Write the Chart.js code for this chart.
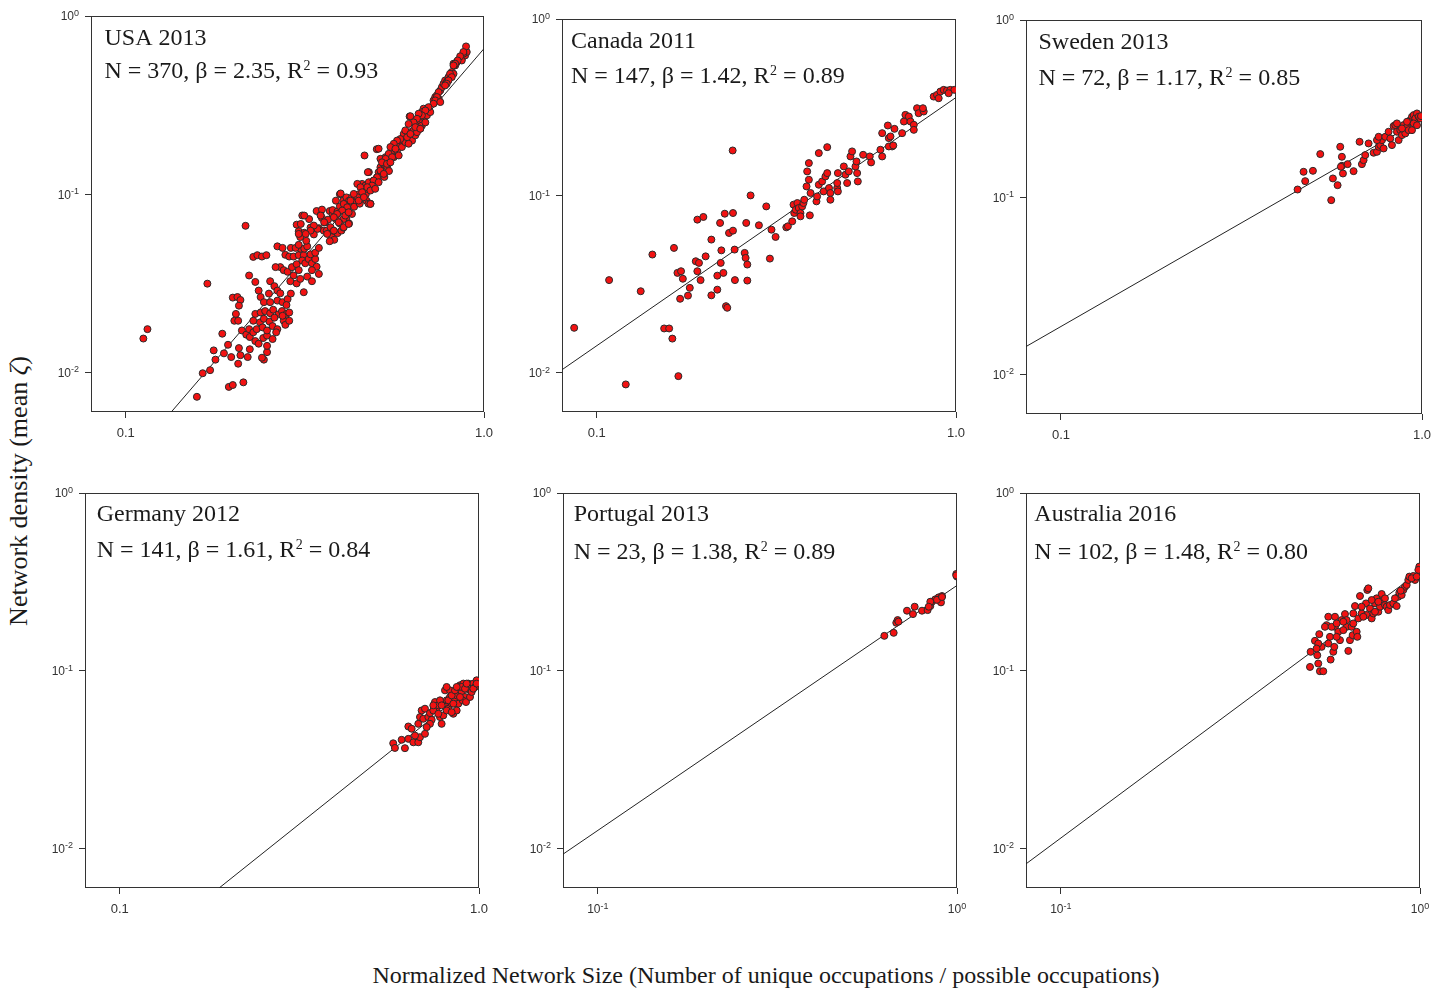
<!DOCTYPE html>
<html>
<head>
<meta charset="utf-8">
<script src="https://cdn.jsdelivr.net/npm/chart.js@4.4.1/dist/chart.umd.min.js"></script>
<style>
  html, body { margin:0; padding:0; background:#fff; }
  body { position:relative; width:1445px; height:989px; overflow:hidden; }
  canvas { position:absolute; }
  .axis-title { position:absolute; font-family:"Liberation Serif","Times New Roman",serif; line-height:1; color:#1a1a1a; white-space:nowrap; }
</style>
</head>
<body>
<div class="axis-title" id="xtitle" style="font-size:24px; left:766px; top:963px; transform:translateX(-50%);">Normalized Network Size (Number of unique occupations / possible occupations)</div>
<div class="axis-title" id="ytitle" style="font-size:26px; left:19px; top:491px; transform:translate(-50%,-50%) rotate(-90deg);">Network density (mean <i>ζ</i>)</div>
<script>
// ---------------- DATA ----------------
const panelTitles = ['USA 2013', 'Canada 2011', 'Sweden 2013', 'Germany 2012', 'Portugal 2013', 'Australia 2016'];
const panelN = ['370', '147', '72', '141', '23', '102'];
const panelBeta = ['2.35', '1.42', '1.17', '1.61', '1.38', '1.48'];
const panelR2 = ['0.93', '0.89', '0.85', '0.84', '0.89', '0.80'];

const xTickValues = [0.1, 1];
const yTickValues = [0.01, 0.1, 1];
const xDecimalLabels = ['0.1', '1.0'];
const xExponentLabels = ['-1', '0'];
const yExponentLabels = ['-2', '-1', '0'];

const usaFit = [[0.134, 0.006], [1.0, 0.656]];
const canadaFit = [[0.08, 0.0104], [1.0, 0.36]];
const swedenFit = [[0.08, 0.0144], [1.0, 0.276]];
const germanyFit = [[0.189, 0.006], [1.0, 0.088]];
const portugalFit = [[0.08, 0.0093], [1.0, 0.302]];
const australiaFit = [[0.08, 0.0082], [1.0, 0.362]];

const usaPts = [
[0.112,0.0155],[0.115,0.0175],[0.169,0.0315],[0.158,0.0073],[0.164,0.0099],[0.172,0.0103],[0.194,0.0083],[0.199,0.0085],[0.213,0.0088],[0.216,0.0665],
[0.176,0.0133],[0.186,0.0165],[0.178,0.0118],[0.188,0.0128],[0.193,0.0143],[0.197,0.0122],[0.206,0.0112],[0.209,0.0125],[0.219,0.0122],[0.222,0.0135],[0.207,0.0137],
[0.201,0.0195],[0.206,0.0195],[0.199,0.0263],[0.205,0.0265],[0.209,0.0255],[0.207,0.0237],[0.203,0.0213],
[0.211,0.0172],[0.217,0.0163],[0.221,0.0175],[0.222,0.0158],[0.227,0.0168],[0.230,0.0150],[0.235,0.0145],[0.242,0.0156],[0.248,0.0161],[0.243,0.0118],[0.248,0.0130],[0.240,0.0121],
[0.221,0.0350],[0.230,0.0322],[0.227,0.0445],[0.233,0.0455],[0.240,0.0447],[0.247,0.0455],[0.235,0.0288],[0.238,0.0265],[0.243,0.0248],[0.251,0.0277],
[0.230,0.0213],[0.238,0.0217],[0.245,0.0221],[0.253,0.0215],[0.258,0.0225],[0.267,0.0212],[0.273,0.0221],
[0.227,0.0195],[0.237,0.0191],[0.243,0.0200],[0.252,0.0193],[0.260,0.0203],[0.276,0.0195],[0.281,0.0213],
[0.232,0.0175],[0.241,0.0179],[0.248,0.0172],[0.257,0.0182],[0.265,0.0175],[0.279,0.0185],
[0.248,0.0141],[0.257,0.0154],[0.263,0.0168],
[0.253,0.0325],[0.260,0.0305],[0.265,0.0288],[0.270,0.0278],
[0.253,0.0248],[0.265,0.0253],[0.274,0.0248],[0.283,0.0258],[0.289,0.0277],[0.281,0.0239],
[0.286,0.0217],[0.274,0.0208],[0.286,0.0195],
[0.265,0.0510],[0.274,0.0500],[0.279,0.0457],
[0.270,0.0390],[0.262,0.0390],
[0.276,0.0375],[0.283,0.0367],[0.291,0.0390],[0.300,0.0405],[0.304,0.0375],[0.294,0.0350],[0.288,0.0325],[0.300,0.0316],[0.307,0.0335],
[0.286,0.0447],[0.294,0.0447],[0.304,0.0455],[0.314,0.0455],[0.307,0.0495],
[0.289,0.0500],[0.298,0.0500],[0.304,0.0520],[0.315,0.0495],[0.321,0.0510],
[0.304,0.0620],[0.315,0.0608],[0.319,0.0548],[0.307,0.0575],[0.300,0.0675],[0.311,0.0760],[0.325,0.0725],[0.328,0.0650],
[0.311,0.0425],[0.317,0.0410],[0.324,0.0433],[0.331,0.0410],[0.338,0.0433],[0.341,0.0392],[0.331,0.0375],[0.321,0.0345],[0.314,0.0282],
[0.328,0.0460],[0.338,0.0470],[0.346,0.0500],
[0.341,0.0805],[0.350,0.0765],[0.353,0.0820],[0.338,0.0645],[0.346,0.0645],[0.335,0.0595],
[0.346,0.0357],[0.331,0.0325],
[0.353,0.0735],[0.360,0.0695],[0.367,0.0720],[0.371,0.0625],[0.357,0.0625],[0.364,0.0625],
[0.371,0.0805],[0.378,0.0770],[0.386,0.0725],[0.378,0.0815],[0.390,0.0800],
[0.375,0.0580],[0.382,0.0555],[0.378,0.0625],[0.371,0.0545],[0.390,0.0605],[0.400,0.0625],[0.405,0.0650],
[0.386,0.0920],[0.396,0.0855],[0.396,0.1000],[0.405,0.0920],[0.413,0.0960],[0.413,0.0865],[0.420,0.0920],[0.416,0.0815],
[0.424,0.0885],[0.428,0.0960],[0.438,0.0920],[0.447,0.1000],[0.434,0.0850],[0.450,0.0885],[0.456,0.0960],[0.460,0.1020],[0.468,0.1000],[0.470,0.0920],[0.476,0.0885],
[0.428,0.0775],[0.413,0.0725],[0.420,0.0685],[0.405,0.0725],[0.396,0.0685],
[0.457,0.1143],[0.467,0.1119],[0.477,0.1168],[0.487,0.1095],[0.472,0.1072],[0.492,0.1193],[0.503,0.1245],[0.508,0.1330],[0.477,0.1330],
[0.482,0.0885],[0.502,0.179],[0.464,0.165],
[0.514,0.1418],[0.525,0.148],[0.519,0.1546],[0.536,0.1546],[0.542,0.165],[0.531,0.1614],[0.514,0.158],
[0.537,0.142],[0.543,0.135],[0.517,0.131],[0.527,0.125],
[0.554,0.172],[0.566,0.184],[0.572,0.176],[0.578,0.192],[0.584,0.200],[0.590,0.184],[0.597,0.209],[0.603,0.196],
[0.560,0.1614],[0.578,0.165],
[0.610,0.209],[0.616,0.218],[0.623,0.223],[0.636,0.228],[0.630,0.200],[0.643,0.214],[0.650,0.238],[0.616,0.192],
[0.657,0.248],[0.664,0.259],[0.671,0.243],[0.678,0.271],[0.686,0.253],[0.664,0.233],[0.650,0.223],
[0.620,0.273],
[0.693,0.277],[0.700,0.295],[0.708,0.289],[0.678,0.302],[0.671,0.289],
[0.723,0.336],[0.731,0.351],[0.739,0.359],[0.747,0.343],[0.755,0.382],
[0.763,0.399],[0.771,0.417],[0.779,0.435],[0.787,0.426],[0.796,0.444],
[0.804,0.464],[0.813,0.485],[0.822,0.474],[0.796,0.454],
[0.822,0.540],[0.840,0.551],[0.849,0.563],[0.867,0.576],[0.886,0.601],[0.895,0.628],[0.876,0.614],[0.891,0.675],
[0.867,0.563],[0.831,0.528],
[0.876,0.628],[0.858,0.594],[0.844,0.563],[0.831,0.540],[0.822,0.528],[0.804,0.474],[0.813,0.454],[0.796,0.435],[0.787,0.417],[0.779,0.408],
[0.747,0.374],[0.739,0.351],[0.731,0.336],[0.755,0.329],[0.723,0.322],[0.700,0.308],[0.686,0.295],[0.671,0.277],[0.657,0.283],[0.650,0.265],
[0.636,0.253],[0.623,0.274],[0.643,0.238],[0.664,0.233],[0.616,0.248],[0.597,0.218],[0.610,0.209],[0.584,0.204],[0.572,0.200],[0.603,0.228],
[0.623,0.218],[0.560,0.192],[0.548,0.184],[0.566,0.180],[0.508,0.180],[0.542,0.1685],[0.554,0.1614],[0.531,0.158],[0.519,0.151],[0.536,0.148],
[0.548,0.151],[0.474,0.133],[0.514,0.1358],[0.525,0.130],[0.503,0.1245],[0.492,0.1193],[0.508,0.1168],[0.487,0.1119],[0.472,0.1095],[0.482,0.1049],
[0.497,0.1072],[0.443,0.1143],[0.452,0.1095],[0.457,0.1026],[0.443,0.0962],[0.433,0.1004],[0.447,0.0921],[0.462,0.0962],[0.482,0.0882],[0.398,0.101],
[0.406,0.0882],[0.415,0.0845],[0.424,0.0921],[0.402,0.081],[0.389,0.0775],[0.410,0.0759],[0.419,0.0792],[0.381,0.0743],[0.393,0.0696],[0.406,0.0653],
[0.419,0.0681],[0.373,0.0653],[0.358,0.0696],[0.350,0.0759],[0.343,0.0639],[0.335,0.0667],[0.328,0.0625],[0.315,0.0759],[0.308,0.0681],[0.304,0.0599],
[0.318,0.0599],[0.365,0.0599],[0.381,0.0625]
];

const canadaPts = [
[0.0865,0.01795],[0.1204,0.00859],[0.1082,0.0334],[0.1325,0.0289],[0.1428,0.0466],[0.164,0.0508],[0.154,0.0178],[0.159,0.0178],[0.1623,0.0156],[0.1687,0.00957],
[0.1677,0.0367],[0.1716,0.0375],[0.1736,0.034],[0.1706,0.0262],[0.1794,0.0273],[0.1815,0.0302],
[0.1905,0.0734],[0.198,0.076],
[0.1886,0.0427],[0.1925,0.0418],[0.1905,0.0375],[0.1945,0.0334],[0.2009,0.0455],
[0.2084,0.0566],[0.2084,0.0274],[0.2165,0.0295],
[0.2165,0.0354],[0.2213,0.0418],[0.2251,0.0367],
[0.2204,0.0703],[0.2222,0.0492],
[0.2271,0.0793],[0.2394,0.080],
[0.2334,0.0617],[0.2394,0.0636],
[0.2289,0.0238],[0.2308,0.0233],
[0.2389,0.1806],
[0.2419,0.0497],[0.2424,0.0334],
[0.258,0.0476],[0.2596,0.0446],[0.2624,0.0409],[0.2624,0.0332],
[0.2606,0.0703],[0.268,0.1006],[0.2827,0.0682],[0.2963,0.0872],[0.3033,0.0442],[0.3064,0.0644],[0.3146,0.0586],
[0.3369,0.0664],[0.3404,0.0673],
[0.350,0.0718],[0.3545,0.080],[0.3529,0.0892],[0.3617,0.0911],
[0.358,0.0835],[0.365,0.0854],[0.369,0.080],[0.373,0.0872],[0.376,0.0911],[0.378,0.0951],
[0.369,0.0766],[0.3918,0.0776],
[0.3836,0.1131],[0.3894,0.1234],[0.3852,0.1375],[0.3894,0.1532],[0.3936,0.1038],
[0.4088,0.0931],[0.4105,0.0993],
[0.415,0.1156],[0.424,0.1207],[0.433,0.1288],[0.438,0.1345],[0.428,0.106],
[0.415,0.1745],[0.438,0.1886],
[0.443,0.1107],[0.447,0.1038],[0.467,0.1107],[0.469,0.106],
[0.447,0.0951],[0.467,0.1182],[0.469,0.1345],
[0.4872,0.1467],[0.4977,0.1182],[0.4923,0.1317],[0.503,0.1375],[0.5084,0.1671],[0.5137,0.1784],[0.5249,0.1467],[0.5284,0.1565],[0.5306,0.1345],[0.5329,0.1207],
[0.5514,0.1707],[0.5754,0.1671],[0.5803,0.1546],
[0.616,0.1823],[0.623,0.1671],[0.65,0.2121],[0.664,0.1903],[0.65,0.1903],[0.657,0.2168],
[0.623,0.2263],[0.646,0.25],[0.674,0.2393],[0.669,0.1928],
[0.708,0.2263],[0.716,0.2633],[0.723,0.2871],[0.739,0.281],[0.747,0.2633],[0.763,0.2522],[0.763,0.2362],[0.779,0.3131],[0.787,0.2934],[0.813,0.2999],[0.809,0.3131],
[0.8667,0.3643],[0.8855,0.3724],[0.9046,0.3889],[0.924,0.3975],[0.944,0.394],[0.9643,0.3975],[0.9894,0.3975],[0.895,0.3566],[0.954,0.3805]
];

const swedenPts = [
[0.4522,0.1107],[0.4698,0.1393],[0.4748,0.1234],[0.4987,0.1411],[0.5226,0.1753],[0.5605,0.0964],[0.5665,0.1278],[0.5837,0.1171],
[0.5936,0.1928],[0.5999,0.1693],[0.5999,0.1506],[0.604,0.1363],[0.6221,0.1539],[0.5961,0.1487],
[0.6463,0.1405],[0.6716,0.2057],[0.7113,0.2013],
[0.6816,0.1539],[0.6889,0.1621],[0.6963,0.173],
[0.7345,0.1784],[0.7503,0.1806],[0.7584,0.1928],[0.7665,0.197],[0.7747,0.2102],[0.7503,0.2102],[0.7584,0.2195],
[0.7828,0.1886],[0.7912,0.2195],[0.8082,0.2343],[0.8168,0.2148],[0.8256,0.197],[0.8344,0.2522],[0.8435,0.2555],[0.8524,0.2343],[0.8615,0.2102],
[0.8707,0.2393],[0.88,0.2243],[0.8896,0.2555],[0.899,0.2293],[0.9087,0.25],[0.9183,0.2393],
[0.9283,0.2726],[0.9382,0.2847],[0.9482,0.2909],[0.9583,0.2786],[0.9685,0.2972],[0.979,0.2847],[0.9895,0.2786],[0.9937,0.2871],[0.9382,0.2393],[0.9183,0.2668],
[0.8524,0.2611],[0.88,0.2446],[0.9087,0.2668],[0.9482,0.2611],[0.9685,0.255]
];

const germanyPts = [
[0.577,0.0391],[0.5834,0.0368],[0.622,0.0367],[0.609,0.0409],[0.6357,0.0414],[0.6565,0.0396],[0.6776,0.0396],[0.685,0.0423],[0.7073,0.0442],[0.6635,0.0432],
[0.6357,0.0486],[0.6494,0.0472],[0.6776,0.0503],[0.685,0.0549],[0.6923,0.0598],[0.7073,0.0612],[0.6997,0.0537],[0.7226,0.0549],[0.7383,0.053],[0.7303,0.0578],
[0.7541,0.0667],[0.7623,0.0598],[0.7461,0.0598],[0.7704,0.0639],[0.7788,0.0549],[0.787,0.0503],[0.7954,0.0561],[0.8041,0.0653],[0.8041,0.0776],[0.8126,0.0682],
[0.8215,0.0612],[0.8303,0.0712],[0.8393,0.0653],[0.8482,0.0573],[0.8573,0.0682],[0.8482,0.076],[0.8667,0.0727],[0.8759,0.0653],[0.8667,0.0598],
[0.8854,0.0829],[0.8949,0.076],[0.9046,0.0847],[0.9141,0.0712],[0.924,0.0793],[0.934,0.0847],[0.944,0.0776],[0.9541,0.0829],[0.9643,0.0847],[0.975,0.0811],[0.985,0.0884],
[0.9007,0.0682],[0.9201,0.0667],[0.944,0.0712],[0.8303,0.0776],[0.7788,0.0682],[0.8126,0.0811],
[0.7461,0.0639],[0.787,0.0639],[0.8215,0.0682],[0.8393,0.0727],[0.8573,0.0776],[0.8759,0.0811],[0.8949,0.0811],[0.9141,0.0793],[0.8854,0.0712],[0.8482,0.0653],
[0.8126,0.0598],[0.7704,0.0573],[0.7303,0.0503],[0.7151,0.0482],[0.9541,0.076],[0.9643,0.0793],[0.985,0.0847],[0.924,0.0847],[0.8667,0.0811],[0.8393,0.0585]
];

const portugalPts = [
[0.6277,0.1572],[0.6663,0.1635],[0.6776,0.1862],[0.6835,0.1928],[0.7257,0.2177],[0.7623,0.2293],[0.7541,0.2084],[0.7989,0.2177],[0.8283,0.2195],[0.8427,0.2312],
[0.8518,0.2446],[0.8703,0.2522],[0.8891,0.2588],[0.9083,0.2633],[0.9025,0.2425],[0.9957,0.3505],[1.0,0.3386],[0.8427,0.2446],[0.8795,0.2505],[0.6872,0.189],
[0.8342,0.2293],[0.995,0.344],[0.9083,0.26]
];

const australiaPts = [
[0.494,0.1051],[0.496,0.1278],[0.51,0.1474],[0.5176,0.1223],[0.5209,0.1098],[0.5265,0.0994],[0.5379,0.0994],[0.5243,0.1607],[0.5322,0.1363],
[0.5495,0.1806],[0.5555,0.2013],[0.5614,0.1552],[0.5639,0.1156],[0.5736,0.1278],[0.5773,0.1363],[0.5798,0.1767],[0.5798,0.2013],[0.5923,0.1657],[0.5987,0.1487],
[0.6051,0.1928],[0.6182,0.2084],[0.6248,0.1767],[0.6316,0.1294],[0.6383,0.1487],[0.6453,0.1767],[0.6494,0.1586],[0.6522,0.1846],[0.6592,0.2312],[0.6663,0.1657],[0.6691,0.1552],
[0.6734,0.197],[0.6807,0.2633],[0.6879,0.2102],[0.7073,0.2393],[0.7104,0.2057],[0.7134,0.2847],[0.718,0.2909],[0.7257,0.2243],[0.7336,0.197],[0.7413,0.2102],
[0.7494,0.2393],[0.7573,0.2555],[0.7656,0.2148],[0.7737,0.2293],[0.782,0.2703],[0.7905,0.25],[0.7989,0.2343],[0.8074,0.2293],[0.8162,0.2195],[0.8248,0.2343],
[0.8427,0.2393],[0.861,0.2312],[0.8703,0.261],[0.8759,0.275],[0.8891,0.2668],[0.8986,0.2847],[0.9083,0.2972],[0.9182,0.3039],[0.9279,0.3243],[0.934,0.3386],
[0.9581,0.3415],[0.9685,0.3243],[0.9957,0.3855],[0.9895,0.3693],
[0.5209,0.1423],[0.5437,0.1767],[0.5675,0.1767],[0.5861,0.1846],[0.6117,0.1693],[0.6248,0.1928],[0.6954,0.2013],[0.7336,0.25],[0.7656,0.2446],
[0.5154,0.1334],[0.5555,0.1423],[0.5861,0.1552],[0.6117,0.1887],[0.6522,0.2102],[0.6879,0.2293],[0.7494,0.2148],[0.7989,0.2555],[0.8518,0.2555],[0.8833,0.2821],
[0.948,0.3314],[0.979,0.3386]
];

const panelPoints = [usaPts, canadaPts, swedenPts, germanyPts, portugalPts, australiaPts];
const panelFits = [usaFit, canadaFit, swedenFit, germanyFit, portugalFit, australiaFit];
const panelXStyle = ['decimal', 'decimal', 'decimal', 'decimal', 'power', 'power'];

// ---------------- LAYOUT (positions only) ----------------
const panelBoxes = [
  [91, 16, 393, 396], [562, 19, 394, 393], [1026, 20, 396, 394],
  [85, 493, 394, 395], [563, 493, 394, 395], [1026, 493, 394, 395]
];
const panelText = [
  [13.5, 29.3, 62], [9, 29.3, 64.3], [12.5, 29.3, 65],
  [11.7, 28.4, 64], [10.7, 28.4, 66], [8.3, 28.4, 66]
];

const PAD_L = 70, PAD_T = 20, PAD_R = 24, PAD_B = 45;
const SANS = '"Liberation Sans", Arial, sans-serif';
const SERIF = '"Liberation Serif", "Times New Roman", serif';

function drawPow(ctx, exp, x, baseline, align) {
  ctx.font = '12px ' + SANS;
  const w1 = ctx.measureText('10').width;
  ctx.font = '9px ' + SANS;
  const w2 = ctx.measureText(exp).width;
  const start = align === 'right' ? x - w1 - w2 : x - (w1 + w2) / 2;
  ctx.textAlign = 'left';
  ctx.font = '12px ' + SANS;
  ctx.fillText('10', start, baseline);
  ctx.font = '9px ' + SANS;
  ctx.fillText(exp, start + w1, baseline - 4.5);
}

const decor = {
  id: 'decor',
  beforeDatasetsDraw(chart, args, o) {
    const a = chart.chartArea, ctx = chart.ctx;
    ctx.save();
    ctx.strokeStyle = '#333';
    ctx.lineWidth = 1;
    ctx.strokeRect(a.left + 0.5, a.top + 0.5, a.right - a.left - 1, a.bottom - a.top - 1);
    ctx.restore();
  },
  afterDraw(chart, args, o) {
    const a = chart.chartArea, ctx = chart.ctx;
    const xs = chart.scales.x, ys = chart.scales.y;
    ctx.save();
    ctx.fillStyle = '#333';
    ctx.textBaseline = 'alphabetic';
    xTickValues.forEach((v, i) => {
      const px = xs.getPixelForValue(v);
      if (o.xStyle === 'decimal') {
        ctx.font = '13px ' + SANS;
        ctx.textAlign = 'center';
        ctx.fillText(xDecimalLabels[i], px, a.bottom + 25);
      } else {
        drawPow(ctx, xExponentLabels[i], px, a.bottom + 25, 'center');
      }
    });
    yTickValues.forEach((v, i) => {
      const py = ys.getPixelForValue(v);
      drawPow(ctx, yExponentLabels[i], a.left - 12, py + 4.3, 'right');
    });
    ctx.fillStyle = '#1a1a1a';
    ctx.textAlign = 'left';
    const x0 = a.left + o.text[0];
    ctx.font = '24px ' + SERIF;
    ctx.fillText(o.title, x0, a.top + o.text[1]);
    const y2 = a.top + o.text[2];
    const part1 = 'N = ' + o.n + ', \u03B2 = ' + o.beta + ', R';
    ctx.fillText(part1, x0, y2);
    let cx = x0 + ctx.measureText(part1).width + 0.5;
    ctx.font = '14px ' + SERIF;
    ctx.fillText('2', cx, y2 - 8);
    cx += ctx.measureText('2').width;
    ctx.font = '24px ' + SERIF;
    ctx.fillText(' = ' + o.r2, cx, y2);
    ctx.restore();
  }
};

panelBoxes.forEach((box, i) => {
  const [L, T, W, H] = box;
  const canvas = document.createElement('canvas');
  const cw = W + PAD_L + PAD_R, ch = H + PAD_T + PAD_B;
  canvas.width = cw; canvas.height = ch;
  canvas.style.left = (L - PAD_L) + 'px';
  canvas.style.top = (T - PAD_T) + 'px';
  canvas.style.width = cw + 'px';
  canvas.style.height = ch + 'px';
  document.body.appendChild(canvas);

  const axisCommon = {
    type: 'logarithmic',
    ticks: { display: false },
    grid: { display: true, drawOnChartArea: false, drawTicks: true, tickLength: 6, color: '#333', lineWidth: 1 },
    border: { display: false }
  };

  new Chart(canvas, {
    type: 'scatter',
    data: {
      datasets: [
        {
          data: panelPoints[i].map(p => ({ x: p[0], y: p[1] })),
          pointRadius: 3.5,
          pointBackgroundColor: '#f21212',
          pointBorderColor: '#2a2a2a',
          pointBorderWidth: 1,
          pointHoverRadius: 3.5,
          showLine: false
        },
        {
          data: panelFits[i].map(p => ({ x: p[0], y: p[1] })),
          showLine: true,
          borderColor: '#222',
          borderWidth: 1,
          pointRadius: 0,
          fill: false
        }
      ]
    },
    options: {
      responsive: false,
      animation: false,
      devicePixelRatio: 1,
      events: [],
      layout: { padding: { left: 0, top: PAD_T, right: PAD_R, bottom: 0 } },
      scales: {
        x: Object.assign({}, axisCommon, {
          min: 0.08, max: 1,
          afterBuildTicks: s => { s.ticks = xTickValues.map(v => ({ value: v })); },
          afterFit: s => { s.height = PAD_B; }
        }),
        y: Object.assign({}, axisCommon, {
          min: 0.006, max: 1,
          afterBuildTicks: s => { s.ticks = yTickValues.map(v => ({ value: v })); },
          afterFit: s => { s.width = PAD_L; }
        })
      },
      plugins: {
        legend: { display: false },
        tooltip: { enabled: false },
        decor: {
          xStyle: panelXStyle[i],
          title: panelTitles[i], n: panelN[i], beta: panelBeta[i], r2: panelR2[i],
          text: panelText[i]
        }
      }
    },
    plugins: [decor]
  });
});
</script>
</body>
</html>
